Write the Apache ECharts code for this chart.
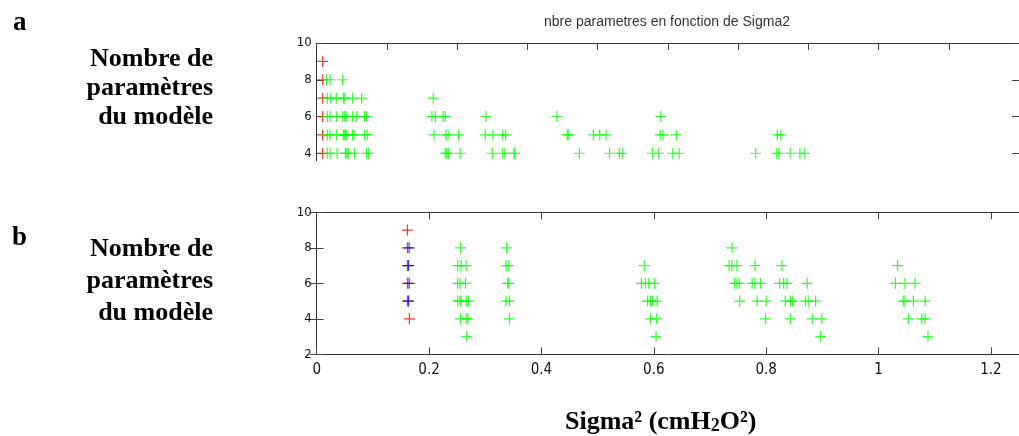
<!DOCTYPE html>
<html>
<head>
<meta charset="utf-8">
<script src="https://cdn.jsdelivr.net/npm/echarts@6/dist/echarts.min.js"></script>
<style>
  html, body { margin: 0; padding: 0; background: #fff; }
  #chart { width: 1019px; height: 436px; }
</style>
</head>
<body>
<div id="chart"></div>
<script>
// panneau a : x, une liste par nombre de parametres
const topRed = [[0.0085, 9], [0.0085, 8], [0.0085, 7], [0.0085, 6], [0.0085, 5], [0.0085, 4]]
const topG8 = [0.014, 0.019, 0.037]
const topG7 = [0.015, 0.020, 0.028, 0.038, 0.040, 0.051, 0.064, 0.166]
const topG6 = [0.015, 0.019, 0.028, 0.037, 0.040, 0.042, 0.051, 0.057, 0.068, 0.071, 0.164, 0.169, 0.180, 0.183, 0.241, 0.342, 0.490]
const topG5 = [0.015, 0.019, 0.028, 0.038, 0.040, 0.041, 0.043, 0.051, 0.053, 0.068, 0.072, 0.167, 0.184, 0.187, 0.202, 0.240, 0.251, 0.265, 0.269, 0.357, 0.359, 0.394, 0.403, 0.412, 0.489, 0.493, 0.512, 0.656, 0.661]
const topG4 = [0.015, 0.019, 0.029, 0.041, 0.043, 0.045, 0.054, 0.071, 0.074, 0.183, 0.185, 0.188, 0.204, 0.250, 0.265, 0.268, 0.281, 0.282, 0.374, 0.417, 0.431, 0.435, 0.478, 0.487, 0.507, 0.516, 0.625, 0.655, 0.658, 0.674, 0.688, 0.695]

// panneau b
const botRed = [[0.1615, 9], [0.1615, 8], [0.1615, 7], [0.1615, 6], [0.1615, 5], [0.165, 4]]
const botBlue = [[0.1645, 8], [0.1635, 7], [0.1645, 6], [0.1635, 5]]
const botG8 = [0.256, 0.338, 0.739]
const botG7 = [0.251, 0.257, 0.266, 0.337, 0.342, 0.583, 0.734, 0.739, 0.748, 0.780, 0.828, 1.034]
const botG6 = [0.251, 0.255, 0.265, 0.340, 0.342, 0.578, 0.585, 0.591, 0.601, 0.744, 0.748, 0.752, 0.775, 0.780, 0.790, 0.824, 0.831, 0.837, 0.873, 1.030, 1.047, 1.065]
const botG5 = [0.251, 0.255, 0.257, 0.266, 0.270, 0.337, 0.343, 0.589, 0.594, 0.598, 0.606, 0.753, 0.784, 0.800, 0.834, 0.843, 0.847, 0.870, 0.876, 0.888, 1.044, 1.047, 1.062, 1.083]
const botG4 = [0.256, 0.266, 0.269, 0.343, 0.594, 0.605, 0.799, 0.843, 0.882, 0.899, 1.053, 1.077, 1.083]
const botG3 = [0.267, 0.604, 0.897, 1.088]

const yTicksTop = [4, 6, 8, 10]
const xTicksBot = [0, 0.2, 0.4, 0.6, 0.8, 1, 1.2]

const rows = (lists) => {
  // lists: [[y, [x...]], ...] -> points
  let out = []
  lists.forEach(([y, xs]) => xs.forEach(x => out.push([x, y])))
  return out
}
const topGreen = rows([[8, topG8], [7, topG7], [6, topG6], [5, topG5], [4, topG4]])
const botGreen = rows([[8, botG8], [7, botG7], [6, botG6], [5, botG5], [4, botG4], [3, botG3]])

const plus = 'path://M4.45,0H5.55V4.45H10V5.55H5.55V10H4.45V5.55H0V4.45H4.45Z'
const tickFont = "'Liberation Sans Narrow', 'Arial Narrow', 'DejaVu Sans Condensed', sans-serif"
const serif = "'Liberation Serif', 'Times New Roman', serif"
const lineCol = '#333'

const tick = (extra) => Object.assign({ show: true, inside: true, length: 7, lineStyle: { color: '#444', width: 1 } }, extra || {})

function pts(name, data, color, xi, yi) {
  return {
    name: name, type: 'scatter', data: data,
    xAxisIndex: xi, yAxisIndex: yi,
    symbol: plus, symbolSize: 11,
    itemStyle: { color: color },
    silent: true, animation: false
  }
}

const mychart = echarts.init(document.getElementById('chart'))
let option = {
  backgroundColor: '#fff',
  animation: false,
  grid: [
    { left: 316.7, top: 43, right: -4.7, height: 117.6 },
    { left: 316.7, top: 212.3, right: -1.8, bottom: 81.7 }
  ],
  xAxis: [
    {
      gridIndex: 0, type: 'value', position: 'top', min: 0, max: 1, interval: 0.1,
      axisLine: { show: true, onZero: false, lineStyle: { color: lineCol } },
      axisTick: tick(),
      axisLabel: { show: false }, splitLine: { show: false }
    },
    {
      gridIndex: 1, type: 'value', position: 'bottom', min: 0, max: 1.25,
      axisLine: { show: true, onZero: false, lineStyle: { color: lineCol } },
      axisTick: tick({ customValues: xTicksBot }),
      axisLabel: {
        customValues: xTicksBot, margin: 8, color: '#111', fontSize: 15, fontFamily: tickFont,
        formatter: v => String(+v.toFixed(1))
      },
      splitLine: { show: false }
    },
    {
      gridIndex: 1, type: 'value', position: 'top', min: 0, max: 1.25,
      axisLine: { show: true, onZero: false, lineStyle: { color: lineCol } },
      axisTick: tick({ customValues: xTicksBot }),
      axisLabel: { show: false }, splitLine: { show: false }
    }
  ],
  yAxis: [
    {
      gridIndex: 0, type: 'value', position: 'left', min: 3.6, max: 10,
      axisLine: { show: true, lineStyle: { color: lineCol } },
      axisTick: tick({ customValues: yTicksTop }),
      axisLabel: { customValues: yTicksTop, margin: 5, color: '#111', fontSize: 13, fontFamily: tickFont },
      splitLine: { show: false }
    },
    {
      gridIndex: 0, type: 'value', position: 'right', min: 3.6, max: 10,
      axisLine: { show: false },
      axisTick: tick({ customValues: yTicksTop }),
      axisLabel: { show: false }, splitLine: { show: false }
    },
    {
      gridIndex: 1, type: 'value', position: 'left', min: 2, max: 10, interval: 2,
      axisLine: { show: true, lineStyle: { color: lineCol } },
      axisTick: tick(),
      axisLabel: { margin: 5, color: '#111', fontSize: 13, fontFamily: tickFont },
      splitLine: { show: false }
    },
    {
      gridIndex: 1, type: 'value', position: 'right', min: 2, max: 10, interval: 2,
      axisLine: { show: false },
      axisTick: tick(), axisLabel: { show: false }, splitLine: { show: false }
    }
  ],
  graphic: [
    {
      type: 'text', x: 667, y: 15, silent: true,
      style: { text: 'nbre parametres en fonction de Sigma2', fill: '#333', font: "14px 'Liberation Sans'", textAlign: 'center' }
    },
    {
      type: 'text', x: 13, y: 10, silent: true,
      style: { text: 'a', fill: '#000', font: "bold 27px " + serif }
    },
    {
      type: 'text', x: 12, y: 225, silent: true,
      style: { text: 'b', fill: '#000', font: "bold 27px " + serif }
    },
    {
      type: 'text', x: 213, y: 45, silent: true,
      style: { text: 'Nombre de\nparamètres\ndu modèle', fill: '#000', font: "bold 26px " + serif, textAlign: 'right', lineHeight: 29 }
    },
    {
      type: 'text', x: 213, y: 233, silent: true,
      style: { text: 'Nombre de\nparamètres\ndu modèle', fill: '#000', font: "bold 26px " + serif, textAlign: 'right', lineHeight: 32 }
    },
    {
      type: 'text', x: 565, y: 409, silent: true,
      style: {
        text: '{a|Sigma}{a|²}{a| (cmH}{b|2}{a|O}{a|²}{a|)}',
        fill: '#000',
        rich: {
          a: { fontSize: 26, fontWeight: 'bold', fontFamily: serif, verticalAlign: 'bottom' },
          b: { fontSize: 18, fontWeight: 'bold', fontFamily: serif, verticalAlign: 'bottom' }
        }
      }
    }
  ],
  series: [
    pts('rouge a', topRed, '#ff0000', 0, 0),
    pts('vert a', topGreen, '#00ff00', 0, 0),
    pts('vert b', botGreen, '#00ff00', 1, 2),
    pts('rouge b', botRed, '#ff0000', 1, 2),
    pts('bleu b', botBlue, '#0000ff', 1, 2)
  ]
}
mychart.setOption(option)
</script>
</body>
</html>
